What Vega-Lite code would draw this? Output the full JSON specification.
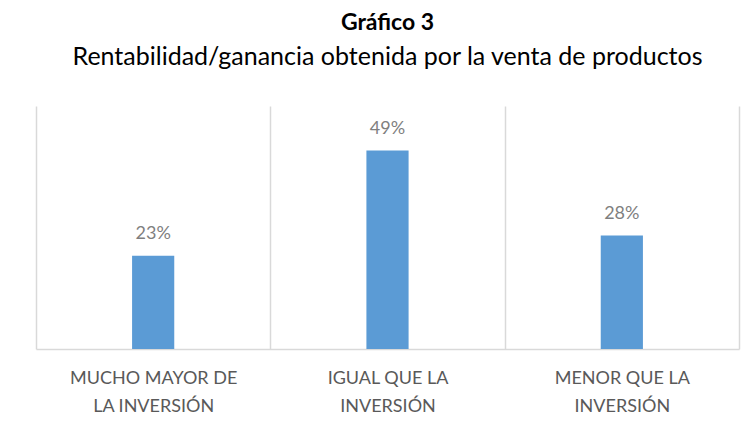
{
  "$schema": "https://vega.github.io/schema/vega-lite/v6.json",
  "width": 703,
  "height": 243,
  "autosize": {"type": "none"},
  "padding": {"left": 36, "top": 106, "right": 17, "bottom": 79},
  "background": "white",
  "title": {
    "text": "Gráfico 3",
    "subtitle": "Rentabilidad/ganancia obtenida por la venta de productos",
    "font": "Lato",
    "fontSize": 23,
    "fontWeight": "bold",
    "color": "#000000",
    "subtitleFont": "Lato",
    "subtitleFontSize": 25,
    "subtitleColor": "#000000",
    "subtitlePadding": 10,
    "anchor": "middle",
    "offset": 36
  },
  "data": {
    "values": [
      {"categoria": "MUCHO MAYOR DE LA INVERSIÓN", "valor": 0.23},
      {"categoria": "IGUAL QUE LA INVERSIÓN", "valor": 0.49},
      {"categoria": "MENOR QUE LA INVERSIÓN", "valor": 0.28}
    ]
  },
  "encoding": {
    "x": {
      "field": "categoria",
      "type": "nominal",
      "sort": null,
      "scale": {"paddingInner": 0, "paddingOuter": 0},
      "axis": {
        "title": null,
        "labelAngle": 0,
        "labelExpr": "datum.value == 'MUCHO MAYOR DE LA INVERSIÓN' ? ['MUCHO MAYOR DE', 'LA INVERSIÓN'] : datum.value == 'IGUAL QUE LA INVERSIÓN' ? ['IGUAL QUE LA', 'INVERSIÓN'] : datum.value == 'MENOR QUE LA INVERSIÓN' ? ['MENOR QUE LA', 'INVERSIÓN'] : ''",
        "labelFont": "Lato",
        "labelFontSize": 18,
        "labelColor": "#595959",
        "labelLineHeight": 28,
        "labelPadding": 20,
        "labelBaseline": "top",
        "ticks": false,
        "tickBand": "extent",
        "grid": true,
        "gridColor": "#d9d9d9",
        "gridWidth": 1.5,
        "domainColor": "#d9d9d9",
        "domainWidth": 1.5
      }
    },
    "y": {
      "field": "valor",
      "type": "quantitative",
      "scale": {"domain": [0, 0.6]},
      "axis": null
    }
  },
  "layer": [
    {"mark": {"type": "bar", "color": "#5B9BD5", "width": {"band": 0.18}}},
    {
      "mark": {"type": "text", "dy": -17, "baseline": "alphabetic", "font": "Lato", "fontSize": 18, "color": "#7f7f7f"},
      "encoding": {"text": {"field": "valor", "type": "quantitative", "format": ".0%"}}
    }
  ],
  "config": {"view": {"stroke": null}}
}
